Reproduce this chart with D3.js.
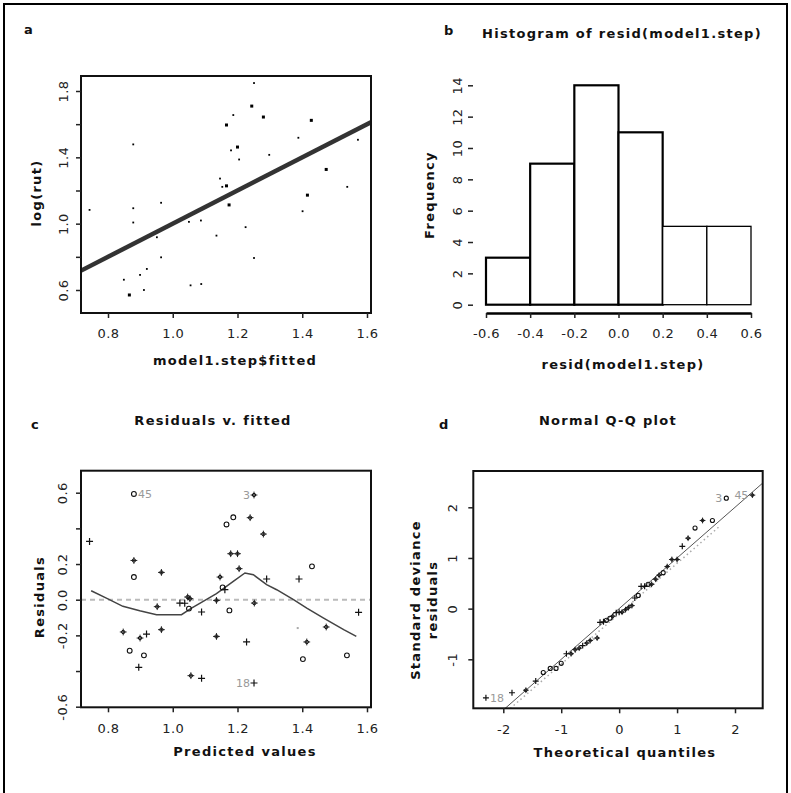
<!DOCTYPE html>
<html><head><meta charset="utf-8">
<script src="https://cdn.jsdelivr.net/npm/d3@7"></script>
<style>
body{margin:0;background:#fff}
svg{display:block}
text{font-family:"DejaVu Sans",Verdana,sans-serif}
.tick text{font-size:13px;fill:#222;letter-spacing:0.4px}
.tick line{stroke:#222;stroke-width:1.5}
.lab{font-size:13px;font-weight:bold;letter-spacing:1.3px;fill:#111}
.tag{font-size:13px;font-weight:bold;fill:#111}
.idl{font-size:11px;fill:#999}
</style></head><body>
<svg id="fig" width="791" height="793"></svg>
<script>
// ---------- panel a: log(rut) vs fitted ----------
const aFitted = [1.251,1.244,1.187,1.28,1.428,1.166,1.388,1.572,0.878,1.2,1.18,1.205,1.298,1.474,1.146,1.166,1.153,1.416,1.539,1.174,0.964,0.743,0.878,0.878,1.401,1.087,1.05,1.225,1.135,0.951,0.964,1.251,0.92,0.899,0.849,1.055,1.088,0.911,0.866];
const aLogRut = [1.848,1.709,1.655,1.643,1.623,1.595,1.518,1.506,1.478,1.462,1.442,1.387,1.415,1.327,1.272,1.228,1.222,1.172,1.222,1.113,1.126,1.083,1.093,1.007,1.075,1.019,1.011,0.979,0.928,0.918,0.797,0.793,0.727,0.691,0.662,0.628,0.636,0.6,0.57];
const aBig = [0,1,0,1,1,1,0,0,0,1,0,0,0,1,0,1,0,1,0,1,0,0,0,0,0,0,0,0,0,0,0,0,0,0,0,0,0,0,1];
const aLineX = [0.717, 1.612];
const aLineY = [0.717, 1.612];
const aXTicks = [0.8,1.0,1.2,1.4,1.6];
const aYTicks = [0.6,0.8,1.0,1.2,1.4,1.6,1.8];
const aYLabels = [0.6,1.0,1.4,1.8];

// ---------- panel b: histogram ----------
const bBinLo = [-0.6,-0.4,-0.2,0.0,0.2,0.4];
const bBinHi = [-0.4,-0.2,0.0,0.2,0.4,0.6];
const bCounts = [3,9,14,11,5,5];
const bXTicks = [-0.6,-0.4,-0.2,0.0,0.2,0.4,0.6];
const bYTicks = [0,2,4,6,8,10,12,14];

// ---------- panel c: residuals vs fitted ----------
const cFitted = [0.743,0.88,0.88,0.88,0.965,0.847,0.867,0.899,0.919,0.911,0.895,0.952,0.965,1.022,1.046,1.053,1.05,1.056,1.089,1.089,1.135,1.135,1.146,1.154,1.161,1.166,1.187,1.175,1.179,1.2,1.205,1.239,1.251,1.228,1.251,1.252,1.28,1.29,1.39,1.43,1.414,1.402,1.386,1.474,1.538,1.574,1.037];
const cResid = [0.327,0.593,0.22,0.127,0.153,-0.181,-0.286,-0.215,-0.193,-0.312,-0.379,-0.039,-0.168,-0.019,0.015,0.006,-0.05,-0.426,-0.441,-0.069,-0.004,-0.206,0.127,0.069,0.056,0.422,0.462,-0.06,0.258,0.258,0.174,0.46,0.587,-0.237,-0.467,-0.019,0.368,0.116,0.116,0.187,-0.237,-0.333,-0.159,-0.153,-0.312,-0.071,-0.02];
const cSym = ["+","o","*","o","*","*","o","*","+","o","+","*","*","+","*","*","o","*","+","+","*","*","*","o","+","o","o","o","*","*","*","*","*","+","+","*","*","+","+","o","*","o",".","*","o","+","+"];
const cIdFitted = [0.88,1.251,1.251];
const cIdResid = [0.593,0.587,-0.467];
const cIdText = ["45","3","18"];
const cIdSide = [1,-1,-1];
const lowX = [0.748,0.795,0.846,0.898,0.95,1.027,1.058,1.094,1.135,1.187,1.223,1.249,1.29,1.321,1.373,1.414,1.466,1.528,1.567];
const lowY = [0.05,0.009,-0.037,-0.062,-0.084,-0.084,-0.047,-0.009,0.034,0.103,0.15,0.14,0.084,0.056,0.0,-0.047,-0.103,-0.168,-0.206];
const cXTicks = [0.8,1.0,1.2,1.4,1.6];
const cYTicks = [-0.6,-0.4,-0.2,0.0,0.2,0.4,0.6];
const cYLabels = [-0.6,-0.2,0.0,0.2,0.6];

// ---------- panel d: normal Q-Q ----------
const dTheo = [-2.30,-1.85,-1.61,-1.44,-1.31,-1.19,-1.09,-1.00,-0.91,-0.83,-0.76,-0.69,-0.63,-0.56,-0.50,-0.44,-0.38,-0.33,-0.27,-0.22,-0.16,-0.11,-0.05,0,0.05,0.11,0.16,0.22,0.27,0.33,0.38,0.44,0.50,0.56,0.63,0.69,0.76,0.83,0.91,1.00,1.09,1.19,1.31,1.44,1.61,1.85,2.30];
const dStd = [-1.76,-1.66,-1.61,-1.43,-1.26,-1.18,-1.18,-1.08,-0.89,-0.89,-0.81,-0.78,-0.73,-0.68,-0.63,-0.60,-0.58,-0.27,-0.26,-0.23,-0.19,-0.15,-0.08,-0.07,-0.07,-0.02,0.02,0.06,0.21,0.26,0.44,0.44,0.48,0.48,0.58,0.66,0.71,0.83,0.97,0.97,1.23,1.39,1.59,1.74,1.74,2.18,2.24];
const dSym = ["+","+","*","+","o","o","o","o","+","*","*","*","+","*","*",".","*","+","+","o","o","*","+","+","*","*","*","*","+","o","+","+","o","*","*","*","o","*","*","*","+","*","o","*","o","o","*"];
const dLineX = [-1.97, 2.50];
const dLineY = [-1.97, 2.50];
const dDotX = [-1.88, 1.75];
const dDotY = [-1.97, 1.64];
const dIdTheo = [-2.30,1.85,2.30];
const dIdStd = [-1.76,2.18,2.24];
const dIdText = ["18","3","45"];
const dIdSide = [1,-1,-1];
const dXTicks = [-2,-1,0,1,2];
const dYTicks = [-1,0,1,2];

// ================= drawing =================
const svg = d3.select("#fig");
const f1 = d => d.toFixed(1);

// outer frame
svg.append("path").attr("d","M4,800 V4 H787 V800").attr("fill","none").attr("stroke","#000").attr("stroke-width",2);

function drawSym(g, px, py, t, s) {
  s = s || 1;
  if (t === ".") {
    g.append("rect").attr("x",px-1).attr("y",py-1).attr("width",2).attr("height",2).attr("fill","#aaa");
    return;
  }
  if (t === "o") {
    g.append("circle").attr("cx",px).attr("cy",py).attr("r",2.4*s).attr("fill","none").attr("stroke","#111").attr("stroke-width",1.1);
  }
  if (t === "*") {
    g.append("circle").attr("cx",px).attr("cy",py).attr("r",1.7*s).attr("fill","none").attr("stroke","#111").attr("stroke-width",1);
    const a = 3.4*s;
    g.append("path").attr("d",`M${px-a},${py}H${px+a}M${px},${py-a}V${py+a}`).attr("stroke","#111").attr("stroke-width",0.9);
  }
  if (t === "+") {
    const a = 3.5*s;
    g.append("path").attr("d",`M${px-a},${py}H${px+a}M${px},${py-a}V${py+a}`).attr("stroke","#111").attr("stroke-width",1.2);
  }
}

function rotateYLabels(g, d) {
  g.selectAll(".tick text").attr("transform","rotate(-90)").attr("x",0).attr("y",-d).attr("dy",0).attr("text-anchor","middle");
}

function boxPanel(id, box) {
  const g = svg.append("g");
  g.append("clipPath").attr("id",id).append("rect").attr("x",box[0]).attr("y",box[1]).attr("width",box[2]-box[0]).attr("height",box[3]-box[1]);
  return g;
}

// ---------- Panel a ----------
{
  const box = [81,76,371,313];
  const x = d3.scaleLinear().domain([0.8,1.6]).range([108,367]);
  const y = d3.scaleLinear().domain([0.6,1.8]).range([290,91]);
  const g = boxPanel("clipA", box);
  const pg = g.append("g").attr("clip-path","url(#clipA)");
  pg.append("line").attr("x1",x(aLineX[0])).attr("y1",y(aLineY[0])).attr("x2",x(aLineX[1])).attr("y2",y(aLineY[1]))
    .attr("stroke","#333").attr("stroke-width",4.5);
  aFitted.forEach((v,i) => {
    const s = aBig[i] ? 3 : 1.8;
    pg.append("rect").attr("x",x(v)-s/2).attr("y",y(aLogRut[i])-s/2).attr("width",s).attr("height",s).attr("fill","#000");
  });
  g.append("rect").attr("x",box[0]).attr("y",box[1]).attr("width",box[2]-box[0]).attr("height",box[3]-box[1]).attr("fill","none").attr("stroke","#111").attr("stroke-width",2);
  const xa = g.append("g").attr("transform",`translate(0,${box[3]})`)
    .call(d3.axisBottom(x).tickValues(aXTicks).tickFormat(f1).tickSize(5).tickPadding(11));
  xa.select(".domain").remove();
  const ya = g.append("g").attr("transform",`translate(${box[0]},0)`)
    .call(d3.axisLeft(y).tickValues(aYTicks).tickFormat(d => aYLabels.some(v => Math.abs(v-d)<1e-9) ? f1(d) : "").tickSize(5));
  ya.select(".domain").remove();
  rotateYLabels(ya, 13);
  g.append("text").attr("class","tag").attr("x",24).attr("y",34).text("a");
  g.append("text").attr("class","lab").attr("x",235).attr("y",365).attr("text-anchor","middle").text("model1.step$fitted");
  g.append("text").attr("class","lab").attr("transform","translate(41,193) rotate(-90)").attr("text-anchor","middle").text("log(rut)");
}

// ---------- Panel b ----------
{
  const x = d3.scaleLinear().domain([-0.6,0.6]).range([486,751]);
  const y = d3.scaleLinear().domain([0,14]).range([304.7,85.3]);
  const g = svg.append("g");
  bCounts.forEach((c,i) => {
    g.append("rect").attr("x",x(bBinLo[i])).attr("y",y(c)).attr("width",x(bBinHi[i])-x(bBinLo[i])).attr("height",y(0)-y(c))
      .attr("fill","#fff").attr("stroke","#000").attr("stroke-width", i < 4 ? 2.2 : 1.3);
  });
  const xa = g.append("g").attr("transform","translate(0,313)")
    .call(d3.axisBottom(x).tickValues(bXTicks).tickFormat(f1).tickSize(5).tickSizeOuter(0).tickPadding(11));
  xa.select(".domain").attr("stroke","#000").attr("stroke-width",2.5);
  xa.selectAll(".tick line").attr("stroke-width",2.5).attr("stroke","#000");
  const ya = g.append("g").attr("transform","translate(473,0)")
    .call(d3.axisLeft(y).tickValues(bYTicks).tickSize(5));
  ya.select(".domain").remove();
  rotateYLabels(ya, 11);
  g.append("text").attr("class","tag").attr("x",444).attr("y",35).text("b");
  g.append("text").attr("class","lab").attr("x",622).attr("y",38).attr("text-anchor","middle").text("Histogram of resid(model1.step)");
  g.append("text").attr("class","lab").attr("x",623).attr("y",369).attr("text-anchor","middle").text("resid(model1.step)");
  g.append("text").attr("class","lab").attr("transform","translate(434,195) rotate(-90)").attr("text-anchor","middle").text("Frequency");
}

// ---------- Panel c ----------
{
  const box = [81,470.7,371,707.3];
  const x = d3.scaleLinear().domain([0.8,1.6]).range([108,367]);
  const y = d3.scaleLinear().domain([-0.6,0.6]).range([706.7,492.7]);
  const g = boxPanel("clipC", box);
  const pg = g.append("g").attr("clip-path","url(#clipC)");
  pg.append("line").attr("x1",box[0]).attr("x2",box[2]).attr("y1",y(0)).attr("y2",y(0))
    .attr("stroke","#bbb").attr("stroke-width",2).attr("stroke-dasharray","5,4");
  pg.append("path").attr("d", d3.line().x(d => x(d[0])).y(d => y(d[1]))(lowX.map((v,i)=>[v,lowY[i]])))
    .attr("fill","none").attr("stroke","#444").attr("stroke-width",1.5);
  cFitted.forEach((v,i) => drawSym(pg, x(v), y(cResid[i]), cSym[i]));
  cIdText.forEach((t,i) => {
    g.append("text").attr("class","idl").attr("x",x(cIdFitted[i]) + cIdSide[i]*4).attr("y",y(cIdResid[i])+4)
      .attr("text-anchor", cIdSide[i] > 0 ? "start" : "end").text(t);
  });
  g.append("rect").attr("x",box[0]).attr("y",box[1]).attr("width",box[2]-box[0]).attr("height",box[3]-box[1]).attr("fill","none").attr("stroke","#111").attr("stroke-width",2);
  const xa = g.append("g").attr("transform",`translate(0,${box[3]})`)
    .call(d3.axisBottom(x).tickValues(cXTicks).tickFormat(f1).tickSize(5).tickPadding(11));
  xa.select(".domain").remove();
  const ya = g.append("g").attr("transform",`translate(${box[0]},0)`)
    .call(d3.axisLeft(y).tickValues(cYTicks).tickFormat(d => cYLabels.some(v => Math.abs(v-d)<1e-9) ? f1(d) : "").tickSize(5));
  ya.select(".domain").remove();
  rotateYLabels(ya, 14);
  g.append("text").attr("class","tag").attr("x",31).attr("y",429).text("c");
  g.append("text").attr("class","lab").attr("x",213).attr("y",425).attr("text-anchor","middle").text("Residuals v. fitted");
  g.append("text").attr("class","lab").attr("x",245).attr("y",756).attr("text-anchor","middle").text("Predicted values");
  g.append("text").attr("class","lab").attr("transform","translate(44,597) rotate(-90)").attr("text-anchor","middle").text("Residuals");
}

// ---------- Panel d ----------
{
  const box = [473.3,471,762.7,708.3];
  const x = d3.scaleLinear().domain([-2,2]).range([503.3,735]);
  const y = d3.scaleLinear().domain([-1,2]).range([659.3,507.3]);
  const g = boxPanel("clipD", box);
  const pg = g.append("g").attr("clip-path","url(#clipD)");
  pg.append("line").attr("x1",x(dDotX[0])).attr("y1",y(dDotY[0])).attr("x2",x(dDotX[1])).attr("y2",y(dDotY[1]))
    .attr("stroke","#aaa").attr("stroke-width",1.5).attr("stroke-dasharray","1.5,3");
  pg.append("line").attr("x1",x(dLineX[0])).attr("y1",y(dLineY[0])).attr("x2",x(dLineX[1])).attr("y2",y(dLineY[1]))
    .attr("stroke","#555").attr("stroke-width",1);
  dTheo.forEach((v,i) => drawSym(pg, x(v), y(dStd[i]), dSym[i], 0.85));
  dIdText.forEach((t,i) => {
    g.append("text").attr("class","idl").attr("x",x(dIdTheo[i]) + dIdSide[i]*4).attr("y",y(dIdStd[i])+4)
      .attr("text-anchor", dIdSide[i] > 0 ? "start" : "end").text(t);
  });
  g.append("rect").attr("x",box[0]).attr("y",box[1]).attr("width",box[2]-box[0]).attr("height",box[3]-box[1]).attr("fill","none").attr("stroke","#111").attr("stroke-width",2);
  const xa = g.append("g").attr("transform",`translate(0,${box[3]})`)
    .call(d3.axisBottom(x).tickValues(dXTicks).tickFormat(d3.format("d")).tickSize(5).tickPadding(11));
  xa.select(".domain").remove();
  xa.selectAll(".tick text").text(d => String(d));
  const ya = g.append("g").attr("transform",`translate(${box[0]},0)`)
    .call(d3.axisLeft(y).tickValues(dYTicks).tickSize(5));
  ya.select(".domain").remove();
  ya.selectAll(".tick text").text(d => String(d));
  rotateYLabels(ya, 16);
  g.append("text").attr("class","tag").attr("x",439).attr("y",429).text("d");
  g.append("text").attr("class","lab").attr("x",608).attr("y",425).attr("text-anchor","middle").text("Normal Q-Q plot");
  g.append("text").attr("class","lab").attr("x",625).attr("y",757).attr("text-anchor","middle").text("Theoretical quantiles");
  g.append("text").attr("class","lab").attr("transform","translate(420,600) rotate(-90)").attr("text-anchor","middle").text("Standard deviance");
  g.append("text").attr("class","lab").attr("transform","translate(437,600) rotate(-90)").attr("text-anchor","middle").text("residuals");
}
</script>
</body></html>
